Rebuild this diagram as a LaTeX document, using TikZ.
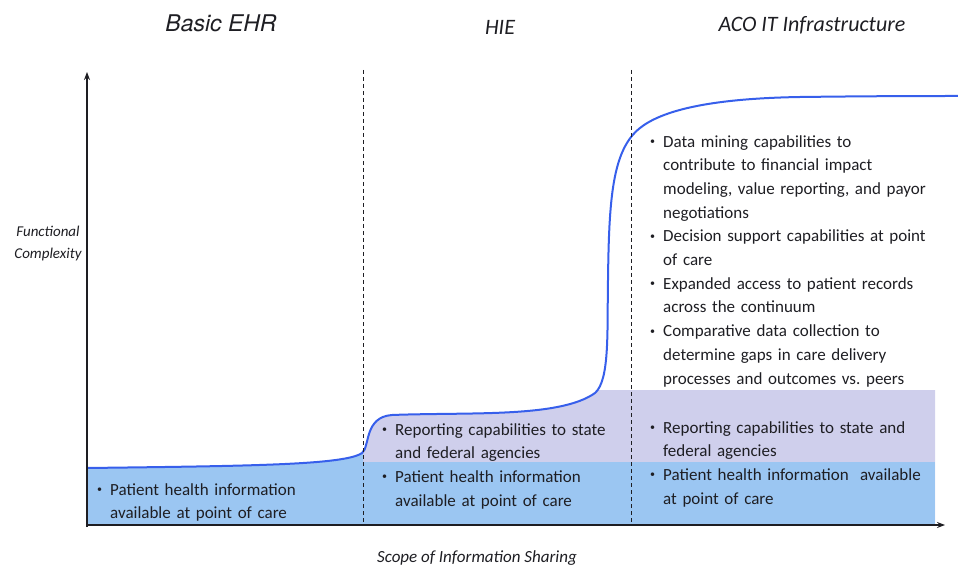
\documentclass[tikz,border=0pt]{standalone}
\usepackage{fontspec}
\setmainfont{Carlito}
\newfontfamily\heros{TeX Gyre Heros}
\usetikzlibrary{arrows.meta}

\definecolor{curveblue}{RGB}{55,95,235}
\definecolor{fillblue}{RGB}{155,198,242}
\definecolor{filllav}{RGB}{207,207,236}
\definecolor{inkgray}{RGB}{30,30,35}

\newcommand{\bitem}[1]{\hangindent=13pt\hangafter=1\noindent\makebox[13pt][l]{\raisebox{2.6pt}{\fontsize{10}{10}\selectfont\textbullet}}#1\par}

\tikzset{
	phase/.style = {font=\fontsize{22}{26}\selectfont\itshape, text=inkgray},
	axislabel/.style = {font=\fontsize{17}{22}\selectfont\itshape, align=center, text=inkgray},
	bullets/.style = {font=\fontsize{17}{23.7}\selectfont\frenchspacing, text width=#1, align=left, anchor=north west, inner sep=0pt, text=inkgray},
	axis/.style = {line width=1.4pt, draw=inkgray, -{Stealth[length=8pt,width=6pt]}},
	divider/.style = {thin, dash pattern=on 4pt off 3pt, draw=inkgray},
	growth/.style = {insert path={(87,468) .. controls (250,466) and (345,465) .. (362,453)
		.. controls (370,447) and (364,417) .. (392,415)
		.. controls (470,412) and (560,418) .. (595,393)
		.. controls (610,380) and (607,330) .. (608,280)
		.. controls (609,200) and (612,150) .. (640,128)
		.. controls (670,104) and (740,98) .. (800,97)
		.. controls (880,96) and (930,96) .. (958,96)}}
}

\begin{document}
\begin{tikzpicture}[x=1pt, y=-1pt]
	\useasboundingbox (0,0) rectangle (958,569);
	\begin{scope}
		\clip (363,390) rectangle (935,525);
		\fill[filllav, growth] -- (958,525) -- (87,525) -- cycle;
	\end{scope}
	\begin{scope}
		\clip (87,0) rectangle (363,525);
		\fill[fillblue, growth] -- (958,525) -- (87,525) -- cycle;
	\end{scope}
	\fill[fillblue] (363,462) rectangle (935,525);
	\draw[curveblue, line width=2pt, growth];

	\draw[divider] (363,70) -- (363,525);
	\draw[divider] (631,70) -- (631,525);

	\coordinate (o) at (87,525);
	\coordinate (ytop) at (87,72);
	\coordinate (xend) at (945,525);
	\draw[axis] (87,527) -- (ytop);
	\draw[axis] (o) -- (xend);

	\node[phase] (ehr) at (221,23) {\heros\itshape\fontsize{23}{26}\selectfont Basic EHR};
	\node[phase] (hie) at (500,27) {HIE};
	\node[phase] (aco) at (812,25) {ACO IT Infrastructure};
	\node[axislabel, font=\fontsize{15}{22}\selectfont\itshape] (complexity) at (48,244) {Functional\\Complexity};
	\node[axislabel] (scope) at (477,558) {Scope of Information Sharing};

	\node[bullets=260pt] (ehrtext) at (97,483) {\bitem{Patient health information\newline available at point of care}};
	\node[bullets=240pt] (hietext) at (382,423) {\bitem{Reporting capabilities to state\newline and federal agencies}
		\bitem{Patient health information\newline available at point of care}};
	\node[bullets=300pt] (acotext) at (650,135) {\bitem{Data mining capabilities to\newline contribute to financial impact\newline modeling, value reporting, and payor\newline negotiations}
		\bitem{Decision support capabilities at point\newline of care}
		\bitem{Expanded access to patient records\newline across the continuum}
		\bitem{Comparative data collection to\newline determine gaps in care delivery\newline processes and outcomes vs. peers}};
	\node[bullets=300pt] (acobase) at (650,421) {\bitem{Reporting capabilities to state and\newline federal agencies}
		\bitem{Patient health information\ \ available\newline at point of care}};
\end{tikzpicture}
\end{document}
